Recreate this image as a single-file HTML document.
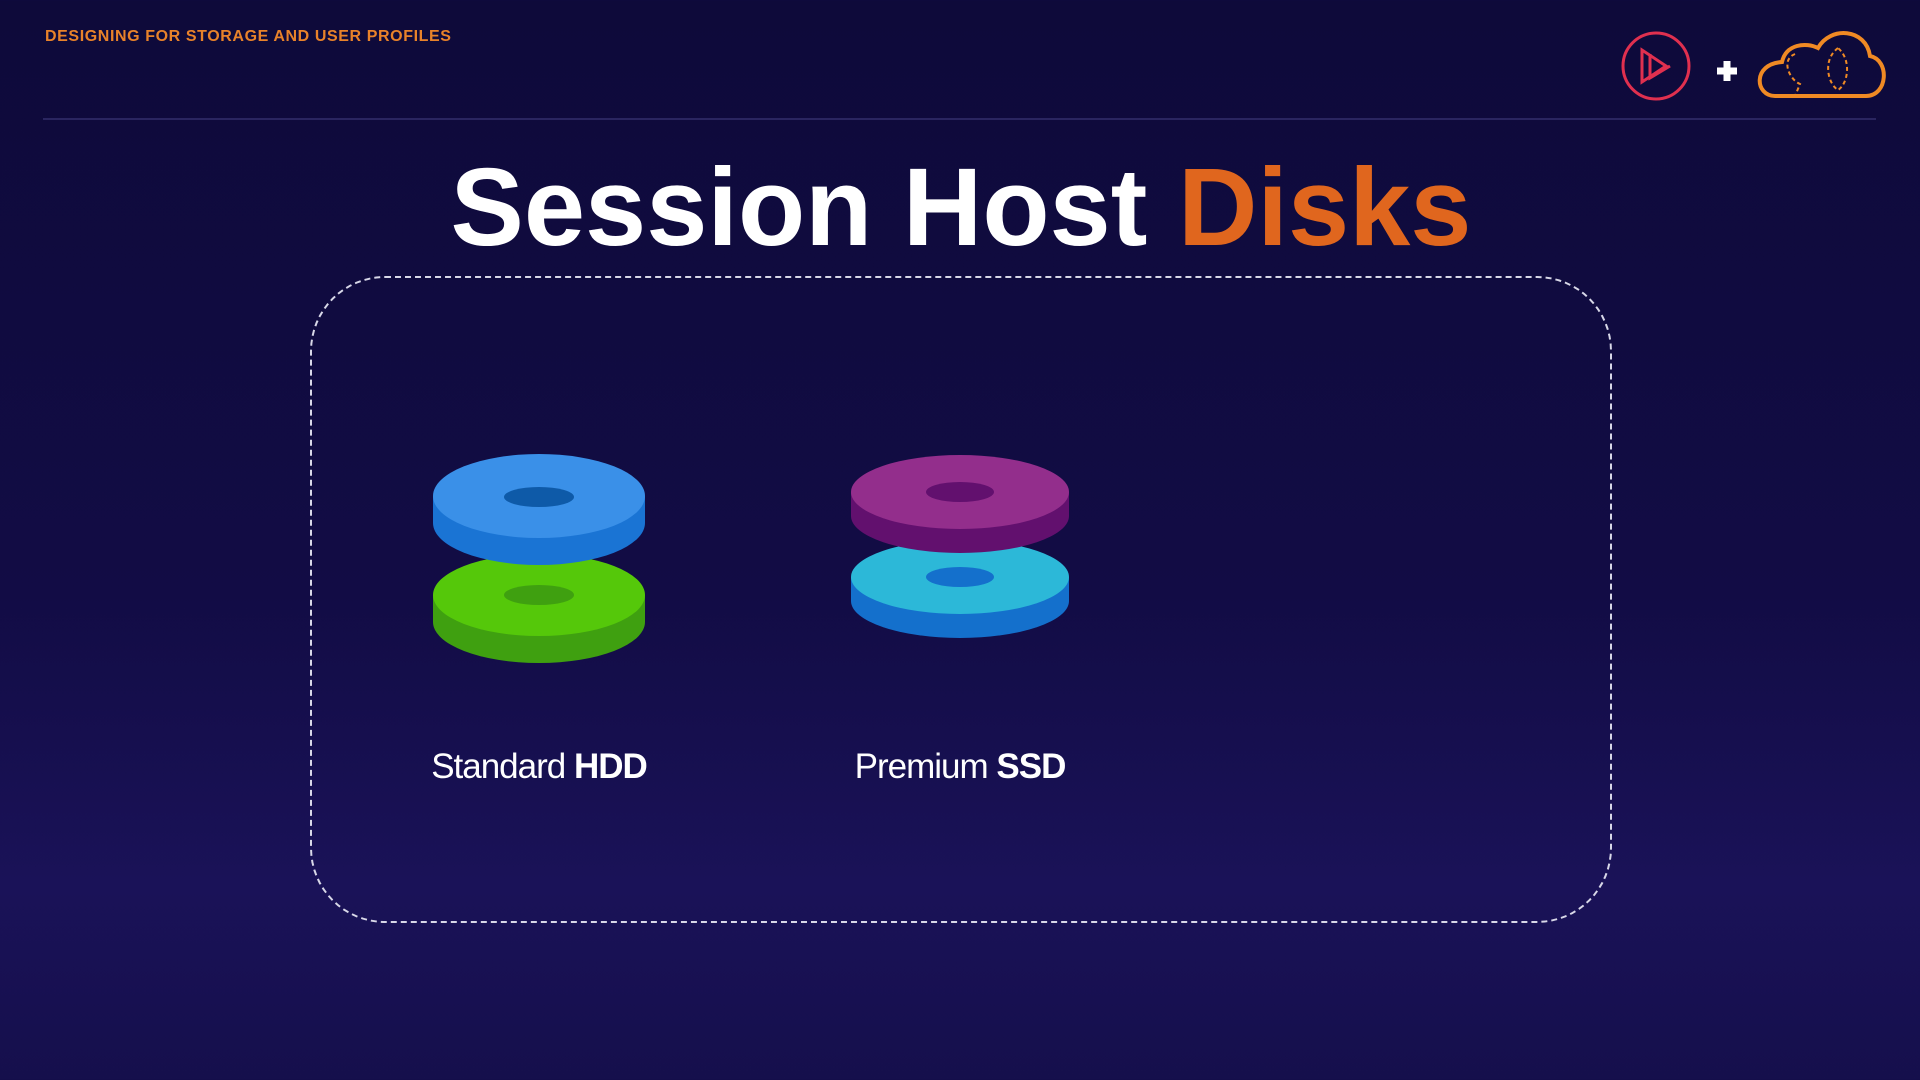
<!DOCTYPE html>
<html><head><meta charset="utf-8"><style>
body{margin:0;width:1920px;height:1080px;overflow:hidden;background:linear-gradient(180deg,#0e0a3a 0%,#120c45 55%,#1a1258 82%,#150f4c 100%);font-family:"Liberation Sans",sans-serif;position:relative}
.hdr{position:absolute;left:45px;top:28px;color:#e8822a;font-weight:bold;font-size:16px;letter-spacing:0.6px}
.line{position:absolute;left:43px;top:118px;width:1833px;height:2px;background:#2a2560}
.title{position:absolute;left:0;width:1922px;top:144px;text-align:center;font-weight:bold;font-size:110px;color:#fff;letter-spacing:0px}
.title span{color:#e0661e}
.box{position:absolute;left:310px;top:276px;width:1298px;height:643px;border:2px dashed #d8d8e8;border-radius:75px}
.lbl{position:absolute;top:747px;width:400px;text-align:center;color:#fff;font-size:35px;letter-spacing:-1px}
</style></head><body>
<div class="hdr">DESIGNING FOR STORAGE AND USER PROFILES</div>
<div class="line"></div>
<div class="title">Session Host <span>Disks</span></div>
<div class="box"></div>
<svg width="1920" height="1080" style="position:absolute;left:0;top:0">
<circle cx="1656" cy="66" r="33" fill="none" stroke="#e0304f" stroke-width="3"/>
<path d="M1642 50 L1642 82 L1666 66 Z M1650 54 L1650 78 L1670 66" fill="none" stroke="#e0304f" stroke-width="3"/>
<path d="M1717 71 h20 M1727 61 v20" stroke="#fff" stroke-width="7"/>
<path d="M1775 96 C1755 96 1752 64 1782 62 C1786 44 1806 42 1818 48 C1830 26 1866 28 1870 56 C1890 60 1888 96 1866 96 Z" fill="none" stroke="#f08a24" stroke-width="4"/>
<path d="M1795 54 C1780 60 1790 80 1800 84 L1795 96 M1838 48 C1822 60 1828 84 1838 90 C1848 84 1852 60 1838 48" fill="none" stroke="#f08a24" stroke-width="2" stroke-dasharray="4 3"/>
<path d="M433 595 v27 a106 41 0 0 0 212 0 v-27 Z" fill="#3fa010"/>
<ellipse cx="539" cy="595" rx="106" ry="41" fill="#55c80a"/>
<ellipse cx="539" cy="595" rx="35" ry="10" fill="#3fa010"/>
<path d="M433 496 v27 a106 42 0 0 0 212 0 v-27 Z" fill="#1a74d4"/>
<ellipse cx="539" cy="496" rx="106" ry="42" fill="#3a90e8"/>
<ellipse cx="539" cy="497" rx="35" ry="10" fill="#0e5aa8"/>
<path d="M851 577 v24 a109 37 0 0 0 218 0 v-24 Z" fill="#1470cc"/>
<ellipse cx="960" cy="577" rx="109" ry="37" fill="#2cb8d8"/>
<ellipse cx="960" cy="577" rx="34" ry="10" fill="#1470cc"/>
<path d="M851 492 v24 a109 37 0 0 0 218 0 v-24 Z" fill="#62106e"/>
<ellipse cx="960" cy="492" rx="109" ry="37" fill="#932e8c"/>
<ellipse cx="960" cy="492" rx="34" ry="10" fill="#62106e"/>
</svg>
<div class="lbl" style="left:339px">Standard <b>HDD</b></div>
<div class="lbl" style="left:760px">Premium <b>SSD</b></div>
</body></html>
